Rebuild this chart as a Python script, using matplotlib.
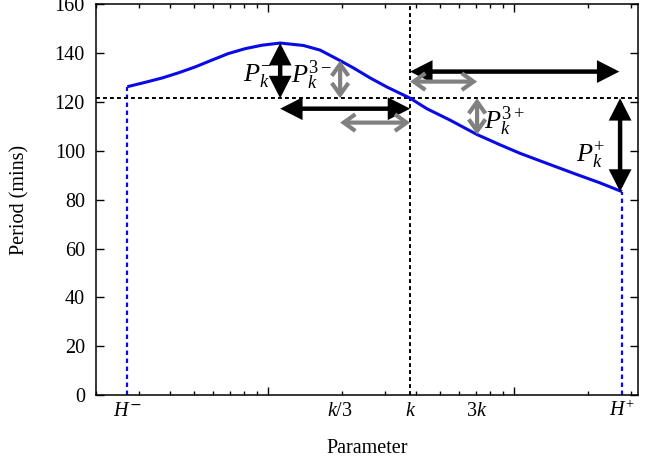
#!/usr/bin/env python3
"""Period vs parameter: the P_k^{+/-} and P_k^{3+/-} differences around k."""
import matplotlib

matplotlib.use("Agg")
import matplotlib.pyplot as plt
import numpy as np

# curve (log-scaled parameter, period in minutes)
param = [0.268, 0.317, 0.372, 0.433, 0.506, 0.592, 0.691, 0.809, 0.945,
         1.122, 1.395, 1.631, 1.967, 2.228, 2.606, 3.046, 3.789, 4.43,
         5.51, 7.093, 8.796, 10.61, 14.05, 17.75, 22.43, 27.56]
period = [126.3, 128.1, 129.9, 132.0, 134.4, 137.2, 139.9, 141.9, 143.3,
          144.2, 143.2, 141.3, 137.0, 134.0, 129.9, 126.2, 121.6, 117.3,
          112.6, 106.7, 102.5, 99.0, 94.4, 90.6, 86.9, 83.3]

# special parameter values and their tick labels
H_MINUS = param[0]
H_PLUS = param[-1]
K = 3.789
K_LOW = 1.967   # position labelled k/3
K_HIGH = 7.093  # position labelled 3k
tick_pos = [H_MINUS, K_LOW, K, K_HIGH, H_PLUS]
tick_lab = [r"$H^{\mathsf{-}}$", r"$k/3$", r"$k$", r"$3k$", r"$H^{+}$"]

P_K = period[param.index(K)]
P_LOW = period[param.index(K_LOW)]
P_HIGH = period[param.index(K_HIGH)]
i_peak = int(np.argmax(period))
X_PEAK, P_PEAK = param[i_peak], period[i_peak]

plt.rcParams["font.family"] = ["Liberation Serif", "DejaVu Serif"]
plt.rcParams["mathtext.fontset"] = "custom"
plt.rcParams["mathtext.rm"] = "Liberation Serif"
plt.rcParams["mathtext.it"] = "Liberation Serif:italic"

fig = plt.figure(figsize=(6.46, 4.66), dpi=100)
ax = fig.add_axes([0.1486, 0.1524, 0.839, 0.838])

BLUE = "#0a0ae6"
GREY = "#808080"
dots = (0, (2.0, 1.6))

ax.plot(param, period, color=BLUE, lw=2.2, solid_capstyle="butt", zorder=3)
ax.plot([H_MINUS, H_MINUS], [0, period[0]], color=BLUE, lw=1.6, ls=dots)
ax.plot([H_PLUS, H_PLUS], [0, period[-1]], color=BLUE, lw=1.6, ls=dots)
ax.axvline(K, color="black", lw=1.4, ls=dots)
ax.axhline(P_K, color="black", lw=1.4, ls=dots)


def double_arrow(x0, y0, x1, y1, colour, big):
    if big:
        style = "<|-|>,head_length=0.55,head_width=0.28"
        lw = 3.2
    else:
        style = "<->,head_length=0.42,head_width=0.3"
        lw = 3.0
    ax.annotate("", xy=(x1, y1), xytext=(x0, y0),
                arrowprops=dict(arrowstyle=style, color=colour, lw=lw,
                                shrinkA=0, shrinkB=0, mutation_scale=20,
                                joinstyle="miter", capstyle="butt"),
                zorder=4)


# vertical differences
double_arrow(X_PEAK, P_K, X_PEAK, P_PEAK, "black", True)
double_arrow(K_LOW, P_K, K_LOW, P_LOW, GREY, False)
double_arrow(K_HIGH, P_K, K_HIGH, P_HIGH, GREY, False)
double_arrow(H_PLUS * 0.982, P_K, H_PLUS * 0.982, period[-1], "black", True)
# horizontal spans
double_arrow(X_PEAK, 117.3, K, 117.3, "black", True)
double_arrow(K_LOW, 111.6, K, 111.6, GREY, False)
double_arrow(K, 132.5, H_PLUS * 0.975, 132.5, "black", True)
double_arrow(K, 128.4, K_HIGH, 128.4, GREY, False)

ax.text(0.91, 131.0, r"$P_k^{-}$", fontsize=19, ha="center", va="center")
ax.text(1.50, 131.0, r"$P_k^{3-}$", fontsize=19, ha="center", va="center")
ax.text(9.2, 112.0, r"$P_k^{3+}$", fontsize=19, ha="center", va="center")
ax.text(20.6, 98.5, r"$P_k^{+}$", fontsize=19, ha="center", va="center")

ax.set_xscale("log")
ax.set_xlim(0.2, 32)
ax.set_ylim(0, 160)
ax.set_yticks(np.arange(0, 161, 20))
ax.xaxis.set_major_formatter(matplotlib.ticker.NullFormatter())
ax.xaxis.set_minor_formatter(matplotlib.ticker.NullFormatter())
ax.tick_params(which="both", direction="in", top=True, right=True,
               labelsize=14.5, width=1)
ax.tick_params(which="major", length=6, pad=8)
ax.tick_params(which="minor", length=3)
for s in ax.spines.values():
    s.set_linewidth(1.1)

for pos, lab in zip(tick_pos, tick_lab):
    ax.text(pos, -0.042, lab, transform=ax.get_xaxis_transform(),
            fontsize=14.5, ha="center", va="center")

ax.set_ylabel("Period (mins)", fontsize=14.5, labelpad=18)
ax.set_xlabel("Parameter", fontsize=14.5, labelpad=24)

fig.savefig("out.png", dpi=100)
